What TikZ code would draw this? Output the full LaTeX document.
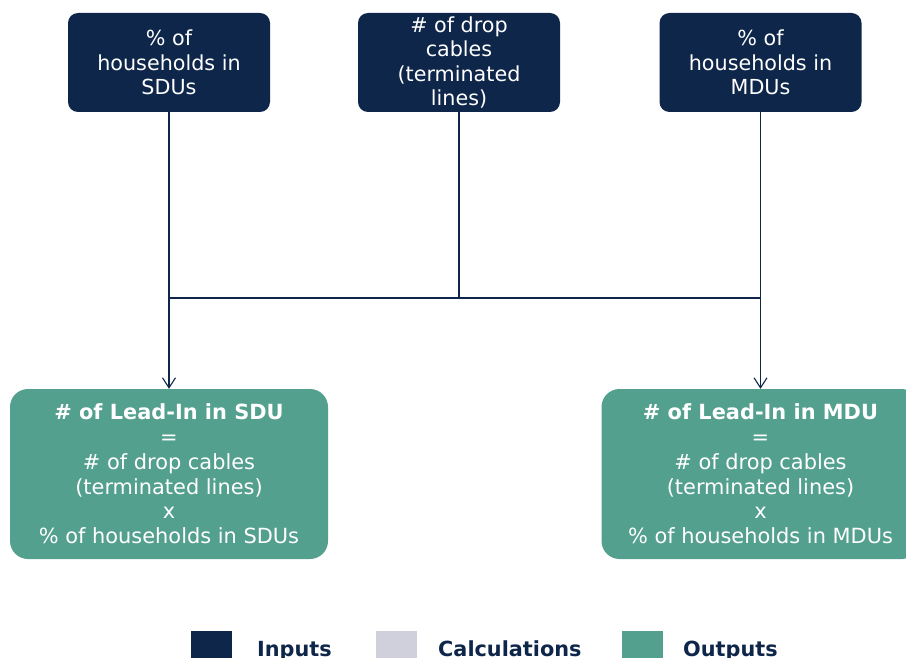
\documentclass[tikz,border=0pt]{standalone}
\usepackage{fontspec}
\setmainfont{DejaVu Sans}
\usetikzlibrary{arrows.meta}
\definecolor{inputblue}{HTML}{0E2649}
\definecolor{outputgreen}{HTML}{53A08E}
\definecolor{calcgray}{HTML}{D0D0DC}
\tikzset{
  inbox/.style={fill=inputblue, rounded corners=10pt, minimum width=202pt,
    minimum height=99pt, inner sep=0pt, text=white, align=center,
    font=\fontsize{20.7}{24.6}\selectfont},
  outbox/.style={fill=outputgreen, rounded corners=18pt, minimum width=318pt,
    minimum height=170pt, inner sep=0pt, text=white, align=center,
    font=\fontsize{20.9}{24.8}\selectfont},
  conn/.style={draw=inputblue, line width=1.1pt},
  arrowconn/.style={conn, -{Straight Barb[length=10pt,width=13pt,line width=1.1pt]}},
  legsq/.style={minimum width=41pt, minimum height=41pt, inner sep=0pt},
  legtext/.style={anchor=base west, inner sep=0pt, text=inputblue,
    font=\fontsize{20.8}{24}\selectfont\bfseries}
}
\begin{document}
\begin{tikzpicture}[x=1pt,y=-1pt]
\useasboundingbox (0,0) rectangle (906,658);
\clip (0,0) rectangle (906,658);

% input boxes
\node[inbox] (sdu) at (169,62.5) {\% of\\households in\\SDUs};
\node[inbox] (drop) at (459,62.5) {\# of drop\\cables\\(terminated\\lines)};
\node[inbox] (mdu) at (760.5,62.5) {\% of\\households in\\MDUs};

% output boxes
\node[outbox] (osdu) at (169,474) {\textbf{\# of Lead-In in SDU}\\=\\\# of drop cables\\(terminated lines)\\x\\\% of households in SDUs};
\node[outbox] (omdu) at (760.5,474) {\textbf{\# of Lead-In in MDU}\\=\\\# of drop cables\\(terminated lines)\\x\\\% of households in MDUs};

% connectors
\coordinate (join) at (459,298);
\draw[conn] (drop.south) -- (join);
\draw[conn] (sdu.south |- join) -- (mdu.south |- join);
\draw[arrowconn] (sdu.south) -- (osdu.north);
\draw[arrowconn] (mdu.south) -- (omdu.north);

% legend
\node[legsq, fill=inputblue] (lin) at (211.5,651.5) {};
\node[legsq, fill=calcgray] (lcalc) at (396.5,651.5) {};
\node[legsq, fill=outputgreen] (lout) at (642.5,651.5) {};
\node[legtext] (tin) at (257,656) {Inputs};
\node[legtext] (tcalc) at (438,656) {Calculations};
\node[legtext] (tout) at (683,656) {Outputs};
\end{tikzpicture}
\end{document}
